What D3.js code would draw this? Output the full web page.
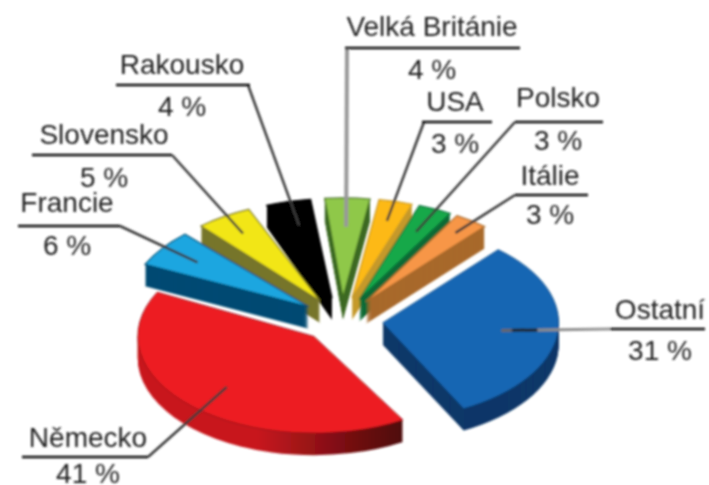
<!DOCTYPE html>
<html>
<head>
<meta charset="utf-8">
<script src="https://cdn.jsdelivr.net/npm/d3@7"></script>
<style>
  html, body { margin: 0; padding: 0; background: #fff; }
  text { font-family: "Liberation Sans", Arial, sans-serif; fill: #222; }
</style>
</head>
<body>
<div id="chart"></div>
<script>
  // Data
  const categories = ["Ostatní", "Německo", "Francie", "Slovensko", "Rakousko", "Velká Británie", "USA", "Polsko", "Itálie"];
  const shares = [31, 41, 6, 5, 4, 4, 3, 3, 3];

  const topColors = ["#1566b3", "#ed1c24", "#1fa6e0", "#f2e614", "#000000", "#8fc84a", "#fdb913", "#12a84a", "#f79646"];
  const sideColors = ["#0c3768", "#8a1015", "#064b73", "#77752a", "#000000", "#3d6a20", "#c5992a", "#0a6b35", "#a8692a"];

  // Painted back to front
  const drawOrder = ["Velká Británie", "Rakousko", "USA", "Polsko", "Itálie", "Slovensko", "Francie", "Ostatní", "Německo"];

  // The drawing is not quite regular, these slices sit a few degrees round from their place
  const nudgeDegrees = { "Německo": -3, "Francie": -5, "Slovensko": -3, "Rakousko": -1 };
  const bigSlices = ["Ostatní", "Německo"];

  // Label layout: text centre, underline ends, how far the leader goes into the slice
  const callouts = [
    { name: "Velká Británie", cx: 432, y: 36, x0: 345, x1: 520, yLine: 48, yPct: 79, elbow: 347, reach: 0.71, color: "#999", w: 4 },
    { name: "Rakousko", cx: 182, y: 74, x0: 116, x1: 250, yLine: 85, yPct: 116, elbow: 248, reach: 0.75, color: "#3a3a3a", w: 2.5 },
    { name: "Slovensko", cx: 104, y: 144, x0: 32, x1: 172, yLine: 155, yPct: 187, elbow: 172, reach: 0.8, color: "#3a3a3a", w: 2.5 },
    { name: "Francie", cx: 67, y: 212, x0: 18, x1: 120, yLine: 226, yPct: 255, elbow: 120, reach: 0.76, color: "#3a3a3a", w: 2.5 },
    { name: "USA", cx: 455, y: 111, x0: 422, x1: 492, yLine: 122, yPct: 153, elbow: 424, reach: 0.8, color: "#3a3a3a", w: 2.5 },
    { name: "Polsko", cx: 558, y: 107, x0: 515, x1: 603, yLine: 122, yPct: 150, elbow: 515, reach: 0.75, color: "#3a3a3a", w: 2.5 },
    { name: "Itálie", cx: 550, y: 185, x0: 515, x1: 588, yLine: 195, yPct: 224, elbow: 515, reach: 0.85, color: "#3a3a3a", w: 2.5 },
    { name: "Ostatní", cx: 660, y: 319, x0: 610, x1: 705, yLine: 329, yPct: 360, elbow: 610, reach: 0.66, color: "url(#ostatni-leader)", w: 3 },
    { name: "Německo", cx: 88, y: 447, x0: 22, x1: 148, yLine: 457, yPct: 483, elbow: 148, reach: 0.7, color: "#3a3a3a", w: 2.5 }
  ];

  const width = 709;
  const height = 485;
  const center = { x: 342, y: 320 };
  const radius = 181;
  const bigRadius = 176;
  const tilt = 0.55;     // vertical squash of the pie
  const explode = 41;    // how far each slice moves out
  const depth = 22;
  const startAngle = 41 * Math.PI / 180;

  const svg = d3.select("#chart").append("svg")
    .attr("width", width)
    .attr("height", height)
    .attr("viewBox", `0 0 ${width} ${height}`)
    .style("display", "block");

  const defs = svg.append("defs");
  // the reference is a soft upscaled scan
  defs.append("filter").attr("id", "soft")
    .attr("x", "-5%").attr("y", "-5%").attr("width", "110%").attr("height", "110%")
    .append("feGaussianBlur").attr("stdDeviation", 0.8);

  const redSide = defs.append("linearGradient").attr("id", "red-side");
  [[0, "#c8181f"], [0.45, "#c8181f"], [0.62, "#a01318"], [0.85, "#6a0c0f"], [1, "#4e0809"]]
    .forEach(s => redSide.append("stop").attr("offset", s[0]).attr("stop-color", s[1]));

  // Ostatní leader is dark over the blue and grey outside it
  const ostatniLeader = defs.append("linearGradient").attr("id", "ostatni-leader")
    .attr("gradientUnits", "userSpaceOnUse")
    .attr("x1", 500).attr("x2", 610).attr("y1", 0).attr("y2", 0);
  [[0, "#666"], [0.1, "#666"], [0.12, "#222"], [0.33, "#222"], [0.35, "#8a8a8a"], [1, "#999"]]
    .forEach(s => ostatniLeader.append("stop").attr("offset", s[0]).attr("stop-color", s[1]));

  const pie = d3.pie().sort(null).startAngle(startAngle).endAngle(startAngle + 2 * Math.PI);
  const arcs = pie(shares).map((a, i) => {
    const n = (nudgeDegrees[categories[i]] || 0) * Math.PI / 180;
    return Object.assign({}, a, { startAngle: a.startAngle + n, endAngle: a.endAngle + n });
  });
  const arc = d3.arc().innerRadius(0)
    .outerRadius(d => bigSlices.includes(categories[d.index]) ? bigRadius : radius);

  const root = svg.append("g").attr("filter", "url(#soft)");

  // top-face origin of a slice after exploding
  function origin(a) {
    const mid = (a.startAngle + a.endAngle) / 2;
    return {
      x: center.x + explode * Math.sin(mid),
      y: center.y - explode * Math.cos(mid) * tilt,
      mid: mid
    };
  }

  drawOrder.forEach(name => {
    const i = categories.indexOf(name);
    const a = arcs[i];
    const o = origin(a);
    const g = root.append("g");

    // side wall: the slice repeated downwards
    d3.range(depth, 0, -1).forEach(dy => {
      g.append("path")
        .attr("d", arc(a))
        .attr("transform", `translate(${o.x},${o.y + dy}) scale(1,${tilt})`)
        .attr("fill", name === "Německo" ? "url(#red-side)" : sideColors[i]);
    });

    g.append("path")
      .attr("d", arc(a))
      .attr("transform", `translate(${o.x},${o.y}) scale(1,${tilt})`)
      .attr("fill", topColors[i])
      .attr("stroke", sideColors[i])
      .attr("stroke-width", name === "Ostatní" ? 0.5 : name === "Německo" ? 0.8 : 1.2)
      .attr("vector-effect", "non-scaling-stroke");
  });

  // Leaders and labels
  callouts.forEach(c => {
    const i = categories.indexOf(c.name);
    const o = origin(arcs[i]);
    const r = radius * c.reach;
    const end = [o.x + r * Math.sin(o.mid), o.y - r * Math.cos(o.mid) * tilt];

    root.append("line")
      .attr("x1", c.elbow).attr("y1", c.yLine)
      .attr("x2", end[0]).attr("y2", end[1])
      .attr("stroke", c.color)
      .attr("stroke-width", c.w);

    root.append("line")
      .attr("x1", c.x0).attr("x2", c.x1)
      .attr("y1", c.yLine).attr("y2", c.yLine)
      .attr("stroke", "#111")
      .attr("stroke-width", 2.5);

    root.append("text")
      .attr("x", c.cx).attr("y", c.y)
      .attr("text-anchor", "middle")
      .attr("font-size", 28)
      .text(c.name);

    root.append("text")
      .attr("x", c.cx).attr("y", c.yPct)
      .attr("text-anchor", "middle")
      .attr("font-size", 28)
      .text(shares[i] + " %");
  });
</script>
</body>
</html>
